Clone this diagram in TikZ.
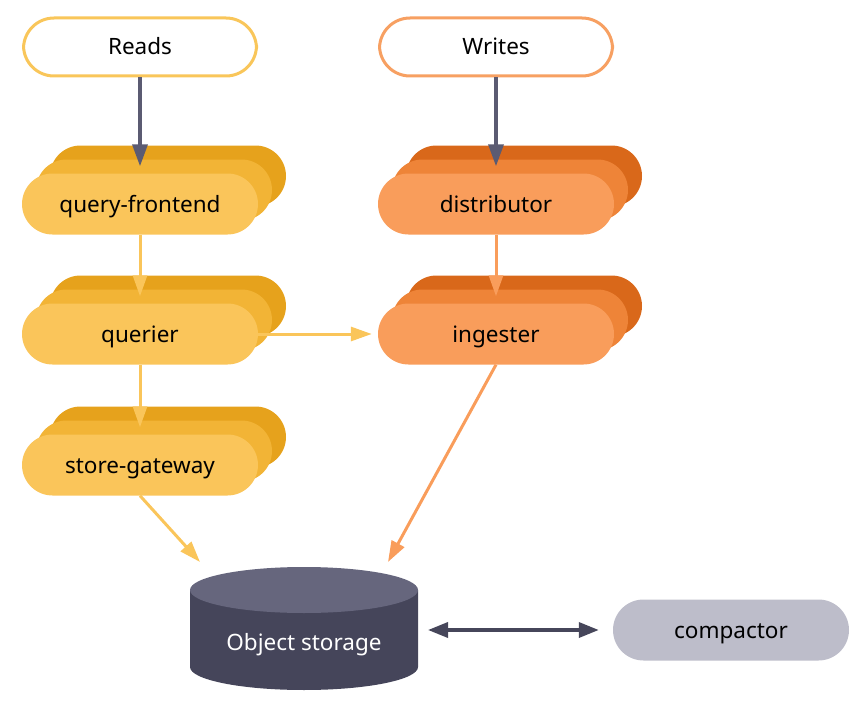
\documentclass[tikz,border=0pt]{standalone}
\usepackage{fontspec}
\setmainfont{Noto Sans}
\usetikzlibrary{arrows.meta}

\definecolor{readline}{HTML}{F9C65A}
\definecolor{writeline}{HTML}{F7A062}
\definecolor{yfront}{HTML}{FAC55A}
\definecolor{ymid}{HTML}{F2B436}
\definecolor{yback}{HTML}{E6A21C}
\definecolor{ofront}{HTML}{F99D5B}
\definecolor{omid}{HTML}{EE8438}
\definecolor{oback}{HTML}{D9681A}
\definecolor{darkline}{HTML}{5B5B72}
\definecolor{bidirline}{HTML}{46465A}
\definecolor{stortop}{HTML}{66667D}
\definecolor{storbody}{HTML}{45455A}
\definecolor{compfill}{HTML}{BDBDCA}

\tikzset{
  label font/.style={font=\fontsize{22.5}{26}\selectfont, text height=16pt, text depth=0pt},
  pill/.style={rounded corners=30.5pt, minimum width=236pt, minimum height=61pt,
    inner sep=0pt, label font},
  entry/.style={pill, fill=white, line width=3pt, minimum width=233pt, minimum height=58pt},
  darkarrow/.style={draw=darkline, line width=3.5pt, -{Triangle[length=22pt,width=15pt]}},
  yarrow/.style={draw=yfront, line width=3pt, -{Triangle[length=21pt,width=14pt]}},
  oarrow/.style={draw=ofront, line width=3pt, -{Triangle[length=21pt,width=14pt]}},
}

\begin{document}
\begin{tikzpicture}[x=1pt,y=-1pt]
\useasboundingbox (0,0) rectangle (863,701);

% entry points
\node[entry, draw=readline] (reads) at (140,47) {Reads};
\node[entry, draw=writeline] (writes) at (496,47) {Writes};

% read path
\node[pill, fill=yback] (qfback) at (168,176) {};
\node[pill, fill=ymid] (qfmid) at (154,190) {};
\node[pill, fill=yfront] (qf) at (140,204) {query-frontend};

\node[pill, fill=yback] (qrback) at (168,306) {};
\node[pill, fill=ymid] (qrmid) at (154,320) {};
\node[pill, fill=yfront] (querier) at (140,334) {querier};

\node[pill, fill=yback] (sgback) at (168,437) {};
\node[pill, fill=ymid] (sgmid) at (154,451) {};
\node[pill, fill=yfront] (sg) at (140,465) {store-gateway};

% write path
\node[pill, fill=oback] (dback) at (524,176) {};
\node[pill, fill=omid] (dmid) at (510,190) {};
\node[pill, fill=ofront] (dist) at (496,204) {distributor};

\node[pill, fill=oback] (iback) at (524,306) {};
\node[pill, fill=omid] (imid) at (510,320) {};
\node[pill, fill=ofront] (ing) at (496,334) {ingester};

% object storage
\fill[storbody] (190,590) -- (190,667) arc[start angle=180, end angle=360, x radius=114pt, y radius=23pt] -- (418,590) -- cycle;
\fill[stortop] (304,590) ellipse[x radius=114pt, y radius=23pt];
\node[text=white, label font] (objst) at (304,642) {Object storage};
\coordinate (objsw) at (200,562);
\coordinate (objne) at (388,562);
\coordinate (objse) at (428,630);

\node[pill, fill=compfill] (comp) at (731,630) {compactor};

% connectors
\draw[darkarrow] (reads) -- (qf) [shorten >=7pt];
\draw[darkarrow] (writes) -- (dist) [shorten >=7pt];
\draw[yarrow, shorten >=7pt] (qf) -- (querier);
\draw[yarrow, shorten >=7pt] (querier) -- (sg);
\draw[yarrow, shorten >=6pt] (querier) -- (ing);
\draw[yarrow] (sg.south) -- (objsw);
\draw[oarrow, shorten >=7pt] (dist) -- (ing);
\draw[oarrow] (ing.south) -- (objne);
\draw[draw=bidirline, line width=3.5pt, {Triangle[length=20pt,width=15pt]}-{Triangle[length=20pt,width=15pt]}, shorten >=14pt] (objse) -- (comp);
\end{tikzpicture}
\end{document}
